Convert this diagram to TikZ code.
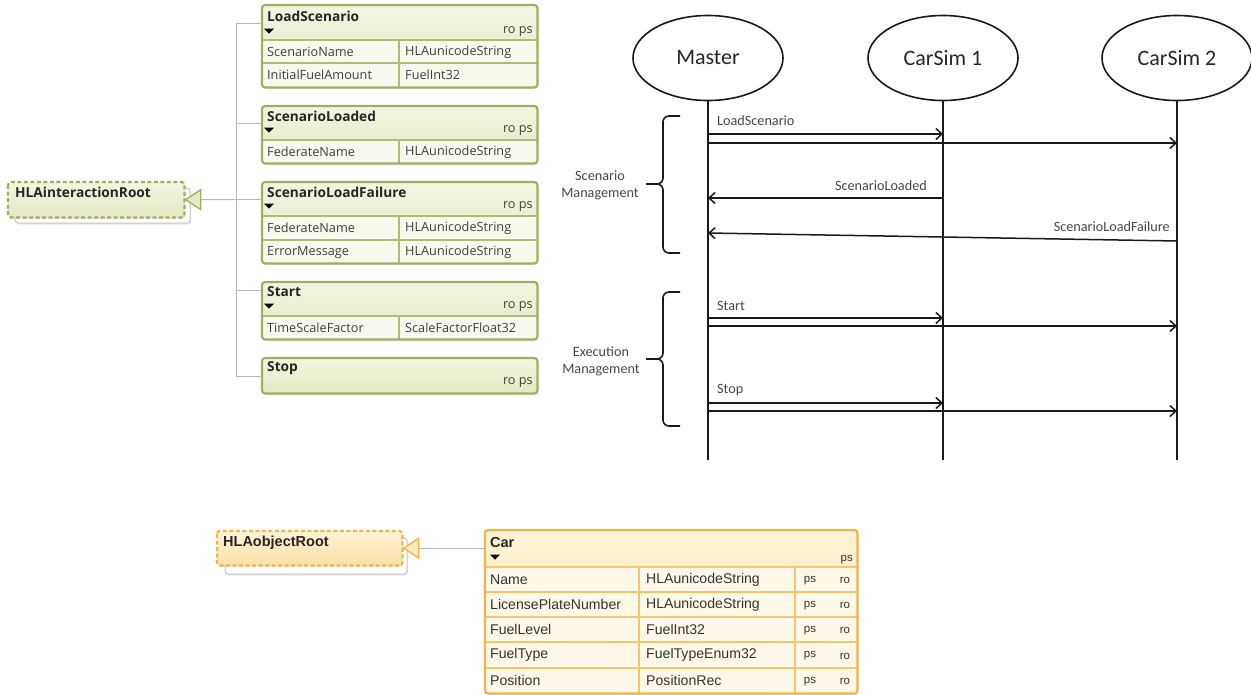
\documentclass[tikz,border=0pt]{standalone}
\usepackage{fontspec}
\setmainfont{Carlito}
\newfontfamily\uifont{Open Sans}
\newfontfamily\arfont{Liberation Sans}
\usetikzlibrary{arrows.meta,shadows,shapes.geometric}
\definecolor{gborder}{RGB}{160,174,100}
\definecolor{gsepc}{RGB}{175,188,120}
\definecolor{ghtop}{RGB}{243,245,225}
\definecolor{ghbot}{RGB}{228,232,194}
\definecolor{growfill}{RGB}{248,249,238}
\definecolor{gtri}{RGB}{228,234,196}
\definecolor{oborder}{RGB}{240,180,72}
\definecolor{osepc}{RGB}{244,196,110}
\definecolor{ohtop}{RGB}{254,243,215}
\definecolor{ohbot}{RGB}{250,224,165}
\definecolor{orowfill}{RGB}{254,248,232}
\definecolor{otri}{RGB}{252,232,185}
\definecolor{treegray}{RGB}{185,185,185}
\definecolor{labgray}{RGB}{70,70,70}
\newcommand\IReg{\uifont\fontsize{12.7}{14}\selectfont}
\newcommand\IBold{\uifont\bfseries\fontsize{13.7}{15}\selectfont}
\newcommand\OReg{\arfont\fontsize{14.1}{16}\selectfont}
\newcommand\OBold{\arfont\bfseries\fontsize{14.5}{16}\selectfont}
\newcommand\OSmall{\arfont\fontsize{11.5}{13}\selectfont}
\newcommand\SLab{\fontsize{14.2}{17}\selectfont}
\newcommand\SBig{\fontsize{22}{24}\selectfont}
\newcommand\dtri[2]{\fill[black] (#1-5,#2-2.5) -- (#1+5,#2-2.5) -- (#1,#2+2.5) -- cycle;}
\tikzset{
  boxbase/.style={anchor=north west, inner sep=0pt, rounded corners=3pt,
    drop shadow={shadow xshift=1pt, shadow yshift=-1.5pt, opacity=0.25}},
  gbox/.style={boxbase, fill=growfill},
  obox/.style={boxbase, fill=orowfill},
  ghead/.style={path picture={\fill[top color=ghtop, bottom color=ghbot]
      (path picture bounding box.north west) rectangle ([yshift=-#1]path picture bounding box.north east);}},
  ohead/.style={path picture={\fill[top color=ohtop, bottom color=ohbot]
      (path picture bounding box.north west) rectangle ([yshift=-#1]path picture bounding box.north east);}},
  gframe/.style={draw=gborder, line width=2.2pt, rounded corners=3pt},
  oframe/.style={draw=oborder, line width=2.2pt, rounded corners=3pt},
  gsep/.style={draw=gsepc, line width=1.2pt},
  osep/.style={draw=osepc, line width=1.2pt},
  ititle/.style={anchor=west, inner sep=0pt, font=\IBold, text=black!85},
  icell/.style={anchor=west, inner sep=0pt, font=\IReg, text=black!75},
  iprop/.style={anchor=east, inner sep=0pt, font=\IReg, text=black!75},
  otitle/.style={anchor=west, inner sep=0pt, font=\OBold, text=black!85},
  ocell/.style={anchor=west, inner sep=0pt, font=\OReg, text=black!80},
  oprop/.style={inner sep=0pt, font=\OSmall, text=black!80},
  ghostbox/.style={draw=black!22, fill=white, line width=1pt, rounded corners=3pt,
    drop shadow={shadow xshift=1pt, shadow yshift=-1.5pt, opacity=0.2}},
  tree/.style={draw=treegray, line width=1pt},
  actor/.style={ellipse, draw=black!90, line width=1.6pt, minimum width=150pt,
    minimum height=85pt, inner sep=0pt, font=\SBig, text=black!85},
  life/.style={draw=black!90, line width=1.6pt},
  msg/.style={draw=black!90, line width=1.5pt, -{Straight Barb[length=6pt,width=11pt]}},
  slab/.style={inner sep=0pt, font=\SLab, text=labgray},
  brace/.style={draw=black!90, line width=1.6pt, rounded corners=6pt},
}
\begin{document}
\begin{tikzpicture}[x=1pt,y=-1pt]
\useasboundingbox (0,0) rectangle (1251,694);

% ================= interaction classes =================
% LoadScenario
\node[gbox, ghead=35pt, minimum width=275pt, minimum height=82pt] (ls) at (262,5) {};
\draw[gsep] (262,40) -- (537,40) (262,63) -- (537,63) (399,40) -- (399,87);
\draw[gframe] (ls.north west) rectangle (ls.south east);
\node[ititle] (lst) at (267,16) {LoadScenario};
\dtri{269}{31}
\node[iprop] (lsp) at (533,32) {ro ps};
\node[icell] (lsa1) at (267,52) {ScenarioName};
\node[icell] (lsb1) at (405,52) {HLAunicodeString};
\node[icell] (lsa2) at (267,75) {InitialFuelAmount};
\node[icell] (lsb2) at (405,75) {FuelInt32};

% ScenarioLoaded
\node[gbox, ghead=34pt, minimum width=275pt, minimum height=57pt] (sl) at (262,106) {};
\draw[gsep] (262,140) -- (537,140) (399,140) -- (399,163);
\draw[gframe] (sl.north west) rectangle (sl.south east);
\node[ititle] (slt) at (267,116) {ScenarioLoaded};
\dtri{269}{130}
\node[iprop] (slp) at (533,131) {ro ps};
\node[icell] (sla1) at (267,152) {FederateName};
\node[icell] (slb1) at (405,152) {HLAunicodeString};

% ScenarioLoadFailure
\node[gbox, ghead=34pt, minimum width=275pt, minimum height=81pt] (sf) at (262,182) {};
\draw[gsep] (262,216) -- (537,216) (262,240) -- (537,240) (399,216) -- (399,263);
\draw[gframe] (sf.north west) rectangle (sf.south east);
\node[ititle] (sft) at (267,192) {ScenarioLoadFailure};
\dtri{269}{206}
\node[iprop] (sfp) at (533,207) {ro ps};
\node[icell] (sfa1) at (267,228) {FederateName};
\node[icell] (sfb1) at (405,228) {HLAunicodeString};
\node[icell] (sfa2) at (267,252) {ErrorMessage};
\node[icell] (sfb2) at (405,252) {HLAunicodeString};

% Start
\node[gbox, ghead=34pt, minimum width=275pt, minimum height=57pt] (st) at (262,282) {};
\draw[gsep] (262,316) -- (537,316) (399,316) -- (399,339);
\draw[gframe] (st.north west) rectangle (st.south east);
\node[ititle] (stt) at (267,292) {Start};
\dtri{269}{306}
\node[iprop] (stp) at (533,307) {ro ps};
\node[icell] (sta1) at (267,328) {TimeScaleFactor};
\node[icell] (stb1) at (405,328) {ScaleFactorFloat32};

% Stop
\node[gbox, ghead=35pt, minimum width=275pt, minimum height=35pt] (sp) at (262,358) {};
\draw[gframe] (sp.north west) rectangle (sp.south east);
\node[ititle] (spt) at (267,368) {Stop};
\node[iprop] (spp) at (533,383) {ro ps};

% HLAinteractionRoot
\draw[ghostbox] (15,188) rectangle (190,223);
\node[gbox, ghead=35pt, minimum width=176pt, minimum height=35pt] (iroot) at (8,182) {};
\draw[gframe, dash pattern=on 4pt off 2.5pt] (iroot.north west) rectangle (iroot.south east);
\node[ititle] (irt) at (15,192) {HLAinteractionRoot};

% tree
\coordinate (j1) at (236,23);
\coordinate (j2) at (236,123);
\coordinate (j3) at (236,199.5);
\coordinate (j4) at (236,290);
\coordinate (j5) at (236,376);
\draw[tree] (j1) -- (j5);
\draw[tree] (j1) -- (j1 -| ls.west);
\draw[tree] (j2) -- (j2 -| sl.west);
\draw[tree] (j3) -- (j3 -| sf.west);
\draw[tree] (j4) -- (j4 -| st.west);
\draw[tree] (j5) -- (j5 -| sp.west);
\draw[tree, -{Triangle[length=17pt,width=22pt,color=gborder,fill=gtri,line width=1.3pt]}] (j3) -- (iroot.east);

% ================= object classes =================
\draw[ghostbox] (225,538) rectangle (407,574);
\node[obox, ohead=34pt, minimum width=185pt, minimum height=34pt] (oroot) at (217,531) {};
\draw[oframe, dash pattern=on 4pt off 2.5pt] (oroot.north west) rectangle (oroot.south east);
\node[otitle] (ort) at (223,543) {HLAobjectRoot};

% Car
\node[obox, ohead=37pt, minimum width=372pt, minimum height=163pt] (car) at (485,530) {};
\draw[osep] (485,567) -- (857,567) (485,592) -- (857,592) (485,617) -- (857,617)
  (485,642) -- (857,642) (485,668) -- (857,668)
  (639,567) -- (639,693) (795,567) -- (795,693);
\draw[oframe] (car.north west) rectangle (car.south east);
\node[otitle] (cart) at (490,543) {Car};
\dtri{495}{557}
\node[oprop, anchor=east] (carp) at (853,560) {ps};
\node[ocell] (ca1) at (490,579.5) {Name};
\node[ocell] (cb1) at (646,579.5) {HLAunicodeString};
\node[oprop] (cc1) at (810,580.5) {ps};
\node[oprop] (cd1) at (845,580.5) {ro};
\node[ocell] (ca2) at (490,604.5) {LicensePlateNumber};
\node[ocell] (cb2) at (646,604.5) {HLAunicodeString};
\node[oprop] (cc2) at (810,605.5) {ps};
\node[oprop] (cd2) at (845,605.5) {ro};
\node[ocell] (ca3) at (490,629.5) {FuelLevel};
\node[ocell] (cb3) at (646,629.5) {FuelInt32};
\node[oprop] (cc3) at (810,630.5) {ps};
\node[oprop] (cd3) at (845,630.5) {ro};
\node[ocell] (ca4) at (490,655) {FuelType};
\node[ocell] (cb4) at (646,655) {FuelTypeEnum32};
\node[oprop] (cc4) at (810,656) {ps};
\node[oprop] (cd4) at (845,656) {ro};
\node[ocell] (ca5) at (490,680.5) {Position};
\node[ocell] (cb5) at (646,680.5) {PositionRec};
\node[oprop] (cc5) at (810,681.5) {ps};
\node[oprop] (cd5) at (845,681.5) {ro};

\draw[tree, -{Triangle[length=17pt,width=22pt,color=oborder,fill=otri,line width=1.3pt]}] (car.west |- oroot.east) -- (oroot.east);

% ================= sequence diagram =================
\node[actor] (mas) at (708,58) {Master};
\node[actor] (cs1) at (943,58) {CarSim 1};
\node[actor] (cs2) at (1177,58) {CarSim 2};
\coordinate (masend) at (708,460);
\coordinate (cs1end) at (943,460);
\coordinate (cs2end) at (1177,460);
\draw[life] (mas.south) -- (masend);
\draw[life] (cs1.south) -- (cs1end);
\draw[life] (cs2.south) -- (cs2end);

% messages
\coordinate (m1a) at (708,134); \coordinate (m1b) at (943,134);
\coordinate (m2a) at (708,143); \coordinate (m2b) at (1177,143);
\coordinate (m3a) at (943,198); \coordinate (m3b) at (708,198);
\coordinate (m4a) at (1177,241); \coordinate (m4b) at (708,233);
\coordinate (m5a) at (708,318); \coordinate (m5b) at (943,318);
\coordinate (m6a) at (708,326); \coordinate (m6b) at (1177,326);
\coordinate (m7a) at (708,403); \coordinate (m7b) at (943,403);
\coordinate (m8a) at (708,411); \coordinate (m8b) at (1177,411);
\draw[msg] (m1a) -- (m1b);
\draw[msg] (m2a) -- (m2b);
\draw[msg] (m3a) -- (m3b);
\draw[msg] (m4a) -- (m4b);
\draw[msg] (m5a) -- (m5b);
\draw[msg] (m6a) -- (m6b);
\draw[msg] (m7a) -- (m7b);
\draw[msg] (m8a) -- (m8b);
\node[slab, anchor=west] (l1) at (717,121) {LoadScenario};
\node[slab, anchor=east] (l3) at (927,186) {ScenarioLoaded};
\node[slab, anchor=east] (l4) at (1170,227) {ScenarioLoadFailure};
\node[slab, anchor=west] (l5) at (717,306) {Start};
\node[slab, anchor=west] (l7) at (717,390) {Stop};

% braces
\draw[brace] (680,116) -- (663,116) -- (663,184) -- (646,184);
\draw[brace] (646,184) -- (663,184) -- (663,253) -- (680,253);
\draw[brace] (680,292) -- (663,292) -- (663,359) -- (646,359);
\draw[brace] (646,359) -- (663,359) -- (663,426) -- (680,426);
\node[slab, align=center] (g1) at (600,185) {Scenario\\Management};
\node[slab, align=center] (g2) at (601,361) {Execution\\Management};
\end{tikzpicture}
\end{document}
